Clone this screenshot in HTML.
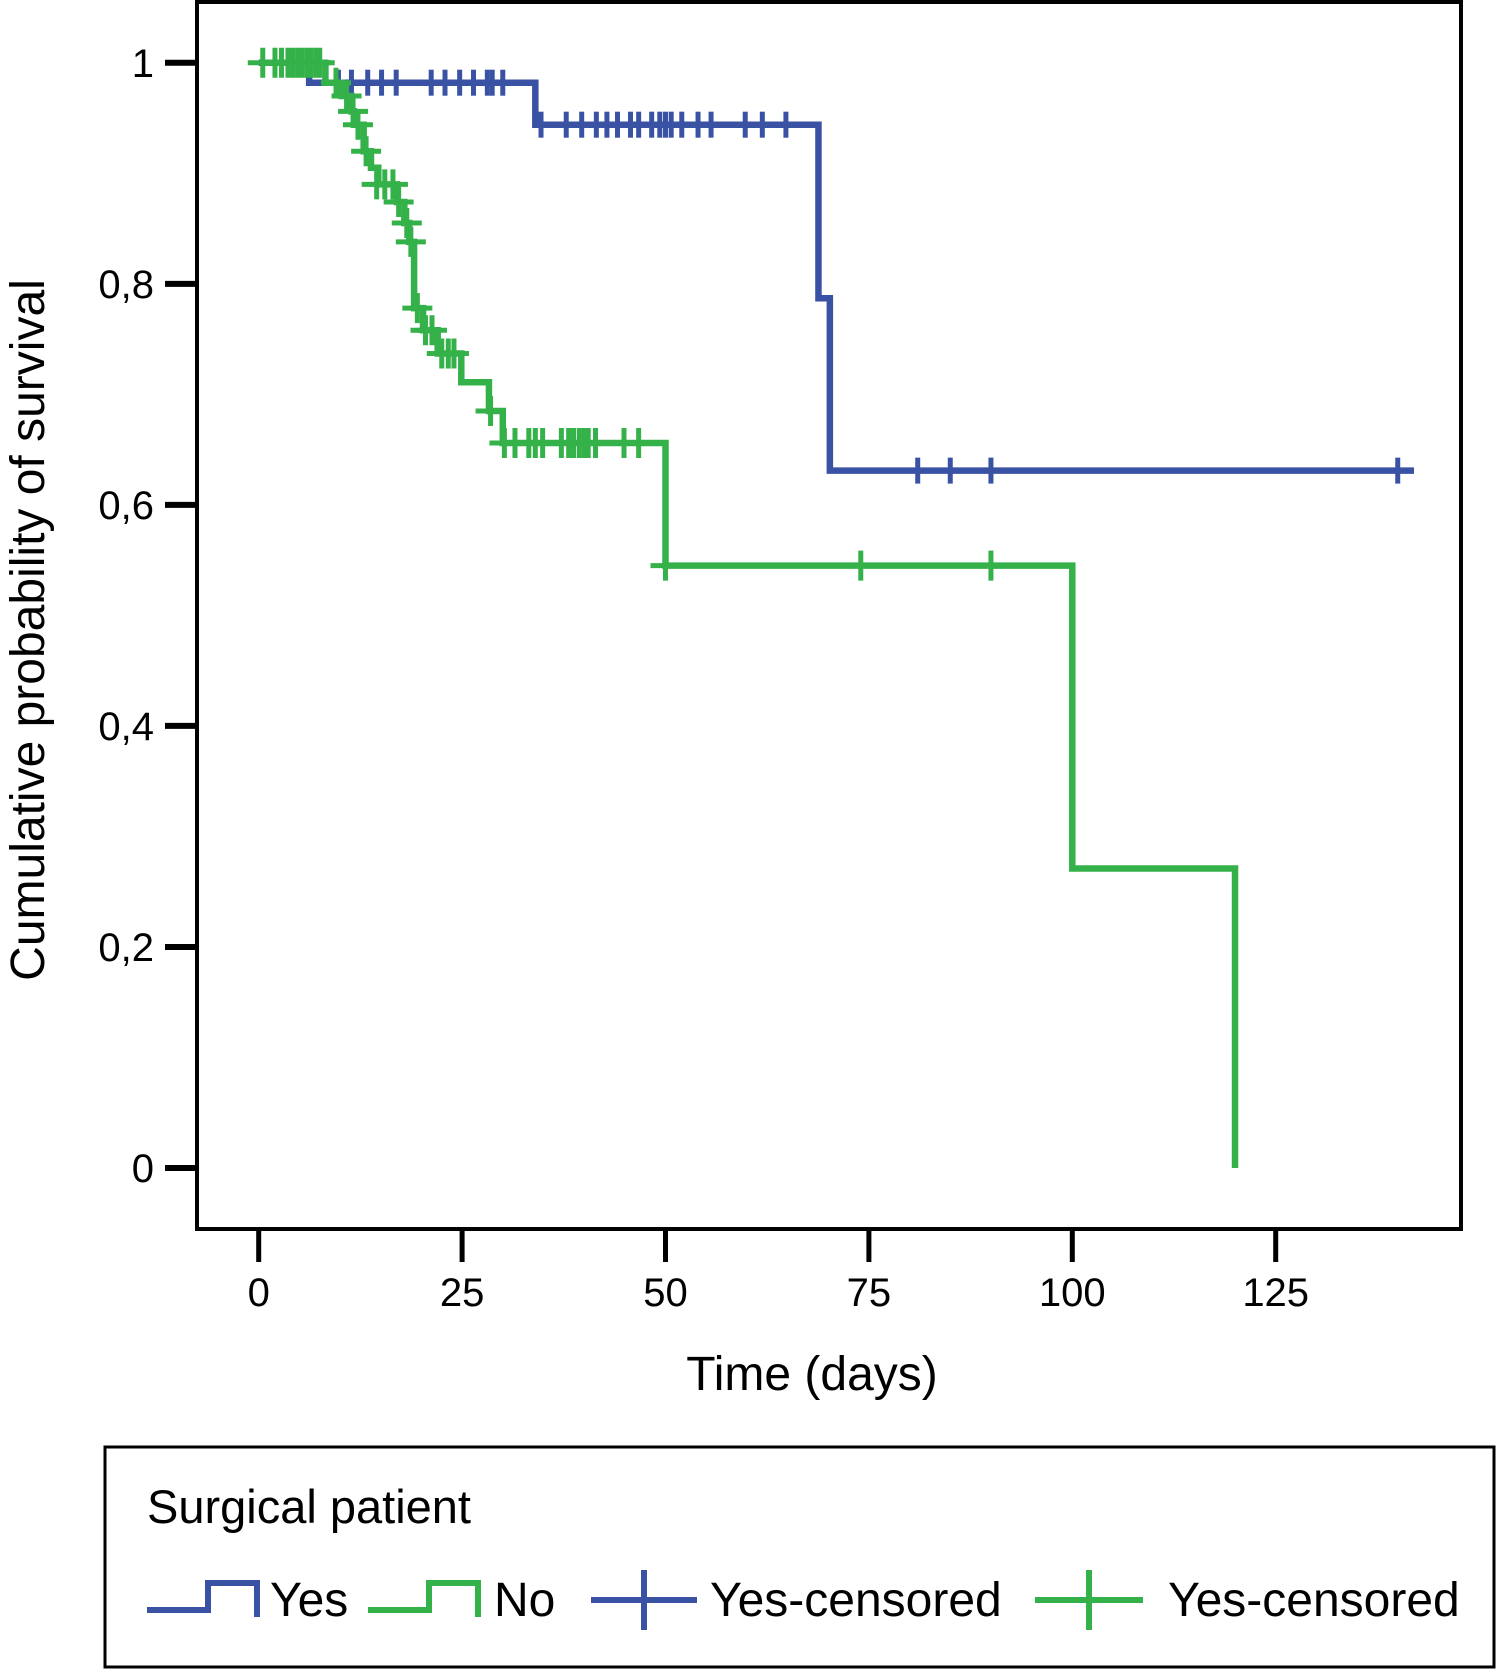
<!DOCTYPE html>
<html><head><meta charset="utf-8"><style>
html,body{margin:0;padding:0;background:#fff;}
svg{display:block;font-family:"Liberation Sans",Arial,sans-serif;}
</style></head><body>
<svg id="chart" width="1496" height="1669" viewBox="0 0 1496 1669">
<rect x="197" y="2" width="1264" height="1227" fill="none" stroke="#000" stroke-width="4"/>
<g id="axes"></g>
<g id="series"></g>
<text x="812" y="1390" font-size="48" text-anchor="middle">Time (days)</text>
<text transform="translate(44,630) rotate(-90)" font-size="48" text-anchor="middle">Cumulative probability of survival</text>
<g>
<rect x="105" y="1447" width="1389" height="220" fill="none" stroke="#000" stroke-width="3"/>
<text x="147" y="1523" font-size="47">Surgical patient</text>
<path d="M147 1610 H208 V1583 H257 V1617" fill="none" stroke="#3a52a4" stroke-width="6"/>
<text x="270" y="1616" font-size="48">Yes</text>
<path d="M368 1610 H429 V1583 H478 V1617" fill="none" stroke="#35b14a" stroke-width="6"/>
<text x="494" y="1616" font-size="48">No</text>
<path d="M591 1600 H697 M644 1570 V1630" fill="none" stroke="#3a52a4" stroke-width="6"/>
<text x="710" y="1616" font-size="48">Yes-censored</text>
<path d="M1035 1600 H1143 M1089 1570 V1630" fill="none" stroke="#35b14a" stroke-width="6"/>
<text x="1168" y="1616" font-size="48">Yes-censored</text>
</g>
</svg>
<script>
const xTicks = [0, 25, 50, 75, 100, 125];
const yTicks = [0, 0.2, 0.4, 0.6, 0.8, 1];
const yTickLabels = ["0", "0,2", "0,4", "0,6", "0,8", "1"];
const yesTimes = [0, 6.2, 34, 68.8, 70.2];
const yesProbs = [1, 0.982, 0.944, 0.787, 0.631];
const yesEnd = 142;
const yesCensorT = [9.8,11.4,13.4,15.1,16.9,21.2,22.9,24.7,26.4,28.1,28.7,30,34.7,37.8,39.7,41.5,42.8,44.1,45.7,46.7,48.3,49.3,50,50.7,52,54,55.6,59.8,61.9,64.8,81,85,90,140];
const yesCensorP = [0.982,0.982,0.982,0.982,0.982,0.982,0.982,0.982,0.982,0.982,0.982,0.982,0.944,0.944,0.944,0.944,0.944,0.944,0.944,0.944,0.944,0.944,0.944,0.944,0.944,0.944,0.944,0.944,0.944,0.944,0.631,0.631,0.631,0.631];
const noTimes = [0, 8.2, 10.2, 11.4, 11.7, 12.9, 13.8, 14.7, 17, 17.9, 18.5, 19.1, 20.2, 22, 24.9, 28.3, 30, 50, 100, 120];
const noProbs = [1, 0.982, 0.97, 0.956, 0.944, 0.92, 0.905, 0.89, 0.874, 0.855, 0.838, 0.778, 0.758, 0.737, 0.711, 0.685, 0.656, 0.545, 0.271, 0];
const noStart = 0.3;
const noCensorT = [0.5,2,2.8,3.6,4.2,4.8,5.3,5.9,6.4,7,7.5,9.5,10.8,11.6,12.2,13.2,14.5,15.5,16.5,17.2,18.2,18.7,19.5,20.5,21.3,22.5,23.3,24,28.5,30.2,31.5,33.2,34,34.9,37.2,38.1,38.7,39.4,40,40.5,41.4,44.9,46.7,50,74,90];
const noCensorP = [1,1,1,1,1,1,1,1,1,1,1,0.982,0.97,0.956,0.944,0.92,0.89,0.89,0.89,0.874,0.855,0.838,0.778,0.758,0.758,0.737,0.737,0.737,0.685,0.656,0.656,0.656,0.656,0.656,0.656,0.656,0.656,0.656,0.656,0.656,0.656,0.656,0.656,0.545,0.545,0.545];

const NS = "http://www.w3.org/2000/svg";
const xs = t => 258.7 + t * 8.136;
const ys = p => 1168 - p * 1105.2;
const axes = document.getElementById('axes');
const series = document.getElementById('series');
function mk(tag, attrs, parent){ const e=document.createElementNS(NS,tag); for(const k in attrs) e.setAttribute(k,attrs[k]); parent.appendChild(e); return e; }

xTicks.forEach(t=>{
  const l = mk('line',{x1:xs(t),x2:xs(t),y1:1230,y2:1262,stroke:'#000','stroke-width':5},axes);
  
  
  const tx = mk('text',{x:xs(t),y:1306,'font-size':40,'text-anchor':'middle'},axes);
  tx.textContent = t;
  
  
});
yTicks.forEach((p,i)=>{
  const l = mk('line',{x1:165,x2:197,y1:ys(p),y2:ys(p),stroke:'#000','stroke-width':6},axes);
  
  
  const tx = mk('text',{x:154,y:ys(p)+14,'font-size':40,'text-anchor':'end'},axes);
  tx.textContent = yTickLabels[i];
  
  
});

function stepPath(times, probs, start, end){
  let d = 'M'+xs(start)+' '+ys(probs[0]);
  for(let i=1;i<times.length;i++){ d += ' H'+xs(times[i])+' V'+ys(probs[i]); }
  if(end!==null) d += ' H'+xs(end);
  return d;
}
const yesLine = mk('path',{d:stepPath(yesTimes,yesProbs,0,yesEnd),fill:'none',stroke:'#3a52a4','stroke-width':6.5},series);


yesCensorT.forEach((t,i)=>{
  const c = mk('line',{x1:xs(t),x2:xs(t),y1:ys(yesCensorP[i])-13,y2:ys(yesCensorP[i])+13,stroke:'#3a52a4','stroke-width':5},series);
  
  
});
const noLine = mk('path',{d:stepPath(noTimes,noProbs,noStart,null),fill:'none',stroke:'#35b14a','stroke-width':6.5},series);


noCensorT.forEach((t,i)=>{
  const x=xs(t), y=ys(noCensorP[i]);
  const c = mk('path',{d:'M'+(x-15)+' '+y+' H'+(x+15)+' M'+x+' '+(y-15)+' V'+(y+15),fill:'none',stroke:'#35b14a','stroke-width':5},series);
  
  
});
</script>
</body></html>
